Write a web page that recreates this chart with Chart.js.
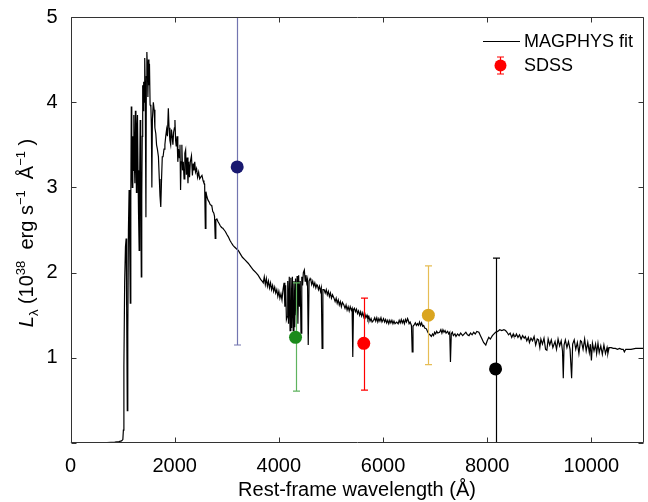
<!DOCTYPE html>
<html>
<head>
<meta charset="utf-8">
<title>MAGPHYS fit</title>
<script src="https://cdn.jsdelivr.net/npm/chart.js@4.4.1/dist/chart.umd.min.js"></script>
<style>
  html, body { margin: 0; padding: 0; overflow: hidden; background: #fff; }
  #wrap { width: 650px; height: 502px; }
</style>
</head>
<body>
<div id="wrap"><canvas id="chart"></canvas></div>
<script>
// MAGPHYS model spectrum (wavelength in Å, L in 1e38 erg/s/Å)
const specWave = [
  0, 300, 500, 700, 850, 930, 980, 1005, 1015, 1025, 1040, 1055, 1068, 1078, 1090, 1100, 1112, 1125, 1137, 1148,
  1158, 1167, 1176, 1186, 1196, 1206, 1216, 1226, 1236, 1246, 1256, 1266, 1276, 1286, 1296, 1306, 1318, 1328, 1338, 1348,
  1359, 1368, 1377, 1386, 1395, 1405, 1415, 1425, 1435, 1448, 1456, 1466, 1476, 1486, 1496, 1506, 1516, 1528, 1543, 1553,
  1562, 1572, 1590, 1606, 1620, 1638, 1652, 1668, 1688, 1705, 1718, 1733, 1748, 1762, 1777, 1795, 1812, 1828, 1845, 1860,
  1878, 1892, 1908, 1923, 1938, 1952, 1966, 1980, 1995, 2005, 2018, 2030, 2045, 2060, 2075, 2090, 2102, 2113, 2124, 2138,
  2150, 2165, 2180, 2195, 2210, 2225, 2240, 2255, 2270, 2285, 2300, 2322, 2340, 2355, 2370, 2385, 2400, 2420, 2440, 2460,
  2480, 2500, 2524, 2545, 2562, 2575, 2588, 2600, 2619, 2640, 2660, 2680, 2700, 2714, 2730, 2750, 2765, 2778, 2790, 2810,
  2830, 2850, 2875, 2900, 2925, 2950, 2975, 3000, 3030, 3060, 3088, 3120, 3150, 3185, 3221, 3260, 3300, 3350, 3411, 3460,
  3510, 3560, 3601, 3650, 3690, 3700, 3720, 3740, 3760, 3780, 3800, 3820, 3840, 3860, 3880, 3900, 3920, 3940, 3960, 3980,
  4000, 4020, 4040, 4060, 4080, 4100, 4115, 4130, 4145, 4158, 4170, 4185, 4200, 4215, 4230, 4245, 4260, 4275, 4290, 4305,
  4320, 4335, 4350, 4365, 4380, 4395, 4410, 4425, 4440, 4455, 4470, 4489, 4505, 4520, 4535, 4550, 4564, 4580, 4600, 4615,
  4630, 4650, 4670, 4690, 4710, 4730, 4741, 4760, 4780, 4800, 4815, 4830, 4845, 4868, 4890, 4910, 4930, 4950, 4970, 4990,
  5010, 5030, 5058, 5080, 5100, 5120, 5140, 5160, 5180, 5200, 5220, 5248, 5270, 5290, 5310, 5330, 5350, 5370, 5390, 5406,
  5419, 5432, 5450, 5470, 5490, 5510, 5530, 5550, 5570, 5590, 5610, 5630, 5650, 5670, 5692, 5710, 5730, 5750, 5770, 5790,
  5819, 5840, 5860, 5880, 5900, 5920, 5940, 5960, 5980, 6009, 6030, 6050, 6070, 6090, 6110, 6130, 6150, 6170, 6190, 6210,
  6230, 6262, 6290, 6310, 6330, 6350, 6370, 6390, 6410, 6430, 6450, 6470, 6484, 6500, 6520, 6545, 6560, 6575, 6600, 6620,
  6640, 6660, 6680, 6700, 6720, 6740, 6760, 6780, 6800, 6832, 6860, 6880, 6900, 6927, 6950, 6970, 6990, 7010, 7030, 7050,
  7085, 7110, 7130, 7150, 7170, 7190, 7210, 7240, 7260, 7280, 7294, 7310, 7330, 7350, 7380, 7400, 7430, 7460, 7490, 7529,
  7560, 7590, 7620, 7650, 7680, 7710, 7740, 7770, 7800, 7840, 7870, 7900, 7930, 7972, 8000, 8030, 8060, 8099, 8130, 8160,
  8200, 8240, 8280, 8320, 8352, 8380, 8410, 8440, 8470, 8500, 8510, 8540, 8560, 8590, 8620, 8650, 8680, 8710, 8732, 8760,
  8790, 8810, 8840, 8870, 8900, 8930, 8960, 8985, 9010, 9030, 9060, 9090, 9120, 9145, 9170, 9200, 9230, 9260, 9302, 9330,
  9360, 9390, 9420, 9445, 9460, 9475, 9500, 9530, 9560, 9590, 9620, 9640, 9670, 9700, 9730, 9760, 9790, 9810, 9840, 9870,
  9900, 9930, 9960, 9980, 10000, 10020, 10050, 10080, 10100, 10126, 10150, 10180, 10210, 10240, 10270, 10300, 10316, 10340, 10380, 10420,
  10460, 10500, 10540, 10580, 10610, 10633, 10660, 10700, 10760, 10850, 10950, 11000
];
const specLum = [
  0.000, 0.000, 0.002, 0.005, 0.010, 0.016, 0.025, 0.04, 0.15, 0.9, 1.9, 2.3, 2.40, 1.6, 0.38, 1.3, 2.5, 2.97, 2.3, 1.64,
  2.9, 3.95, 3.3, 3.0, 3.6, 3.2, 3.85, 3.3, 3.05, 3.9, 3.4, 2.94, 3.7, 3.85, 3.2, 2.7, 2.26, 3.1, 3.79, 3.0,
  1.95, 2.9, 3.6, 4.2, 3.9, 4.24, 4.0, 4.52, 4.15, 2.65, 4.3, 4.59, 4.4, 4.06, 4.5, 4.2, 4.45, 3.97, 3.95, 3.7,
  3.0, 3.8, 4.0, 3.91, 3.7, 3.63, 3.5, 3.45, 3.36, 3.1, 2.9, 2.77, 3.1, 3.36, 3.36, 3.45, 3.5, 3.6, 3.68, 3.6,
  3.93, 3.7, 3.55, 3.5, 3.68, 3.6, 3.5, 3.65, 3.7, 3.79, 3.55, 3.48, 3.6, 3.3, 3.45, 3.35, 3.5, 2.97, 3.3, 3.5,
  3.2, 3.3, 3.1, 3.4, 3.44, 3.15, 3.35, 3.05, 3.3, 3.12, 3.3, 3.37, 3.14, 3.28, 3.2, 3.3, 3.18, 3.22, 3.12, 3.18,
  3.1, 3.12, 3.14, 3.08, 3.05, 3.04, 2.52, 2.95, 2.89, 2.85, 2.83, 2.8, 2.79, 2.78, 2.72, 2.7, 2.66, 2.40, 2.62, 2.63,
  2.6, 2.58, 2.55, 2.53, 2.52, 2.5, 2.48, 2.45, 2.42, 2.38, 2.35, 2.32, 2.3, 2.28, 2.26, 2.22, 2.18, 2.15, 2.11, 2.07,
  2.03, 2.0, 1.97, 1.92, 1.89, 1.88, 1.95, 1.86, 1.93, 1.84, 1.9, 1.82, 1.88, 1.8, 1.85, 1.78, 1.83, 1.76, 1.8, 1.72,
  1.78, 1.7, 1.75, 1.68, 1.8, 1.88, 1.6, 1.85, 1.45, 1.48, 1.9, 1.4, 1.95, 1.32, 1.94, 1.35, 1.95, 1.32, 1.9, 1.36,
  1.93, 1.5, 1.96, 1.4, 1.97, 1.6, 1.9, 1.29, 1.95, 1.85, 2.0, 2.03, 1.9, 1.97, 1.88, 1.92, 1.15, 1.9, 1.93, 1.91,
  1.86, 1.9, 1.84, 1.88, 1.82, 1.86, 1.85, 1.8, 1.84, 1.78, 1.82, 1.11, 1.8, 1.80, 1.76, 1.8, 1.74, 1.78, 1.72, 1.76,
  1.7, 1.74, 1.70, 1.66, 1.7, 1.64, 1.68, 1.62, 1.66, 1.6, 1.65, 1.62, 1.58, 1.62, 1.56, 1.6, 1.55, 1.6, 1.56, 1.58,
  1.01, 1.56, 1.58, 1.54, 1.57, 1.52, 1.55, 1.5, 1.54, 1.49, 1.53, 1.48, 1.52, 1.47, 1.50, 1.45, 1.48, 1.43, 1.46, 1.42,
  1.44, 1.47, 1.43, 1.47, 1.42, 1.46, 1.43, 1.47, 1.42, 1.46, 1.42, 1.45, 1.41, 1.44, 1.4, 1.44, 1.41, 1.44, 1.4, 1.43,
  1.4, 1.42, 1.4, 1.44, 1.41, 1.45, 1.41, 1.44, 1.4, 1.45, 1.42, 1.46, 1.44, 1.4, 1.42, 1.38, 1.07, 1.37, 1.39, 1.41,
  1.38, 1.4, 1.38, 1.42, 1.38, 1.41, 1.37, 1.38, 1.35, 1.34, 1.3, 1.28, 1.27, 1.25, 1.28, 1.26, 1.3, 1.28, 1.31, 1.29,
  1.30, 1.33, 1.29, 1.33, 1.3, 1.32, 1.29, 1.31, 1.28, 1.3, 0.95, 1.28, 1.3, 1.26, 1.28, 1.25, 1.28, 1.26, 1.29, 1.26,
  1.28, 1.3, 1.27, 1.26, 1.29, 1.27, 1.3, 1.28, 1.31, 1.30, 1.26, 1.22, 1.18, 1.15, 1.2, 1.24, 1.22, 1.26, 1.28, 1.3,
  1.31, 1.33, 1.32, 1.33, 1.32, 1.3, 1.27, 1.29, 1.24, 1.28, 1.26, 1.25, 1.28, 1.24, 1.27, 1.22, 1.26, 1.23, 1.25, 1.2,
  1.24, 1.18, 1.23, 1.2, 1.25, 1.15, 1.22, 1.21, 1.12, 1.22, 1.16, 1.23, 1.1, 1.09, 1.22, 1.15, 1.21, 1.12, 1.19, 1.1,
  1.22, 1.14, 1.2, 1.08, 0.76, 1.15, 1.21, 1.12, 1.19, 1.1, 0.76, 1.16, 1.21, 1.1, 1.18, 1.05, 1.2, 1.19, 1.1, 1.22,
  1.08, 1.18, 1.06, 1.16, 0.97, 1.17, 1.08, 1.16, 1.05, 1.17, 1.06, 1.14, 1.04, 1.15, 1.05, 1.12, 1.05, 1.12, 1.12, 1.11,
  1.11, 1.1, 1.11, 1.1, 1.1, 1.07, 1.1, 1.1, 1.1, 1.11, 1.11, 1.11
];

// SDSS photometry (u g r i z), rest frame
const bandName = ['u', 'g', 'r', 'i', 'z'];
const bandWave = [3200, 4320, 5630, 6870, 8160];
const bandLum = [3.24, 1.24, 1.17, 1.50, 0.87];
const bandLo = [1.15, 0.61, 0.62, 0.92, -0.5];
const bandHi = [6.5, 1.88, 1.70, 2.08, 2.17];
const bandColor = ['#191970', '#1a8a1a', '#ff0000', '#daa520', '#000000'];
const barColor = ['#7275b0', '#5fb35f', '#ff0000', '#e6bd55', '#000000'];

const xTicks = [0, 2000, 4000, 6000, 8000, 10000];
const yTicks = [0, 1, 2, 3, 4, 5];

const FONT = "'Liberation Sans', Arial, sans-serif";
Chart.defaults.font.family = FONT;
Chart.defaults.color = '#000';

const spectrum = specWave.map((w, i) => ({ x: w, y: specLum[i] }));
const photometry = bandWave.map((w, i) => ({ x: w, y: bandLum[i] }));

// error bars, drawn right after the spectrum so the dots sit on top
const errorBars = {
  id: 'errorBars',
  afterDatasetDraw(chart, args) {
    if (args.index !== 1) return;
    const { ctx, chartArea: a, scales: { x, y } } = chart;
    ctx.save();
    ctx.beginPath();
    ctx.rect(a.left, a.top, a.right - a.left, a.bottom - a.top);
    ctx.clip();
    ctx.lineWidth = 1.2;
    bandWave.forEach((w, i) => {
      const px = Math.round(x.getPixelForValue(w)) + 0.5;
      const lo = y.getPixelForValue(bandLo[i]);
      const hi = y.getPixelForValue(bandHi[i]);
      ctx.strokeStyle = barColor[i];
      ctx.beginPath();
      ctx.moveTo(px, lo); ctx.lineTo(px, hi);
      ctx.moveTo(px - 3.5, lo); ctx.lineTo(px + 3.5, lo);
      ctx.moveTo(px - 3.5, hi); ctx.lineTo(px + 3.5, hi);
      ctx.stroke();
    });
    ctx.restore();
  }
};

// box with inward ticks on all four sides
const frame = {
  id: 'frame',
  afterDatasetsDraw(chart) {
    const { ctx, chartArea: a, scales: { x, y } } = chart;
    const l = Math.round(a.left) + 0.5, r = Math.round(a.right) - 0.5;
    const t = Math.round(a.top) + 0.5, b = Math.round(a.bottom) - 0.5;
    ctx.save();
    ctx.strokeStyle = '#333';
    ctx.lineWidth = 1;
    ctx.beginPath();
    ctx.moveTo(l, t); ctx.lineTo(r, t); ctx.lineTo(r, b); ctx.lineTo(l, b); ctx.closePath();
    xTicks.forEach(v => {
      const px = Math.round(x.getPixelForValue(v)) + 0.5;
      ctx.moveTo(px, b); ctx.lineTo(px, b - 5);
      ctx.moveTo(px, t); ctx.lineTo(px, t + 5);
    });
    yTicks.forEach(v => {
      const py = Math.round(y.getPixelForValue(v)) + 0.5;
      ctx.moveTo(l, py); ctx.lineTo(l + 5, py);
      ctx.moveTo(r, py); ctx.lineTo(r - 5, py);
    });
    ctx.stroke();
    ctx.restore();
  }
};

// y-axis title with sub/superscripts, and the legend
const labels = {
  id: 'labels',
  afterDraw(chart) {
    const { ctx } = chart;
    const parts = [
      { t: 'L', f: 'italic 20px ' + FONT, dy: 0 },
      { t: 'λ', f: '13px ' + FONT, dy: 5 },
      { t: ' (10', f: '20px ' + FONT, dy: 0 },
      { t: '38', f: '13px ' + FONT, dy: -8 },
      { t: '  erg s', f: '20px ' + FONT, dy: 0 },
      { t: '−1', f: '13px ' + FONT, dy: -8 },
      { t: '  Å', f: '20px ' + FONT, dy: 0 },
      { t: '−1', f: '13px ' + FONT, dy: -8 },
      { t: ' )', f: '20px ' + FONT, dy: 0 }
    ];
    ctx.save();
    let total = 0;
    parts.forEach(p => { ctx.font = p.f; p.w = ctx.measureText(p.t).width; total += p.w; });
    ctx.translate(33, 233);
    ctx.rotate(-Math.PI / 2);
    ctx.fillStyle = '#000';
    ctx.textBaseline = 'alphabetic';
    let cx = -total / 2;
    parts.forEach(p => { ctx.font = p.f; ctx.fillText(p.t, cx, p.dy); cx += p.w; });
    ctx.restore();

    ctx.save();
    ctx.strokeStyle = '#000';
    ctx.lineWidth = 1;
    ctx.beginPath();
    ctx.moveTo(483, 41.5); ctx.lineTo(520, 41.5);
    ctx.stroke();
    ctx.strokeStyle = '#ff0000';
    ctx.lineWidth = 1.2;
    ctx.beginPath();
    ctx.moveTo(500.5, 57); ctx.lineTo(500.5, 74);
    ctx.moveTo(497, 57); ctx.lineTo(504, 57);
    ctx.moveTo(497, 74); ctx.lineTo(504, 74);
    ctx.stroke();
    ctx.fillStyle = '#ff0000';
    ctx.beginPath();
    ctx.arc(500.5, 65.5, 6, 0, Math.PI * 2);
    ctx.fill();
    ctx.fillStyle = '#000';
    ctx.font = '18px ' + FONT;
    ctx.textBaseline = 'middle';
    ctx.fillText('MAGPHYS fit', 524, 42);
    ctx.fillText('SDSS', 524, 66);
    ctx.restore();
  }
};

new Chart(document.getElementById('chart'), {
  type: 'scatter',
  data: {
    datasets: [
      {
        label: 'SDSS',
        data: photometry,
        pointRadius: 6.5,
        pointHoverRadius: 6.5,
        pointBackgroundColor: bandColor,
        pointBorderColor: bandColor,
        pointBorderWidth: 0
      },
      {
        label: 'MAGPHYS fit',
        data: spectrum,
        showLine: true,
        borderColor: '#000',
        borderWidth: 1.2,
        pointRadius: 0,
        pointHoverRadius: 0,
        tension: 0
      }
    ]
  },
  options: {
    responsive: true,
    maintainAspectRatio: false,
    animation: false,
    events: [],
    layout: { padding: { top: 17, right: 0, left: 0, bottom: 0 } },
    plugins: { legend: { display: false }, tooltip: { enabled: false } },
    scales: {
      x: {
        type: 'linear',
        min: 0,
        max: 11000,
        grid: { display: false },
        border: { display: false },
        afterBuildTicks: s => { s.ticks = xTicks.map(v => ({ value: v })); },
        ticks: { maxRotation: 0, autoSkip: false, font: { size: 20 }, padding: 3, callback: v => String(v) },
        title: { display: true, text: 'Rest-frame wavelength (Å)', font: { size: 20 }, padding: { top: 2, bottom: 0 } },
        afterFit: s => { s.height = 59; }
      },
      y: {
        min: 0,
        max: 5,
        grid: { display: false },
        border: { display: false },
        afterBuildTicks: s => { s.ticks = yTicks.map(v => ({ value: v })); },
        ticks: { font: { size: 20 }, padding: 5, callback: v => (v === 0 ? '' : String(v)) },
        afterFit: s => { s.width = 70.5; }
      }
    }
  },
  plugins: [errorBars, frame, labels]
});
</script>
</body>
</html>
